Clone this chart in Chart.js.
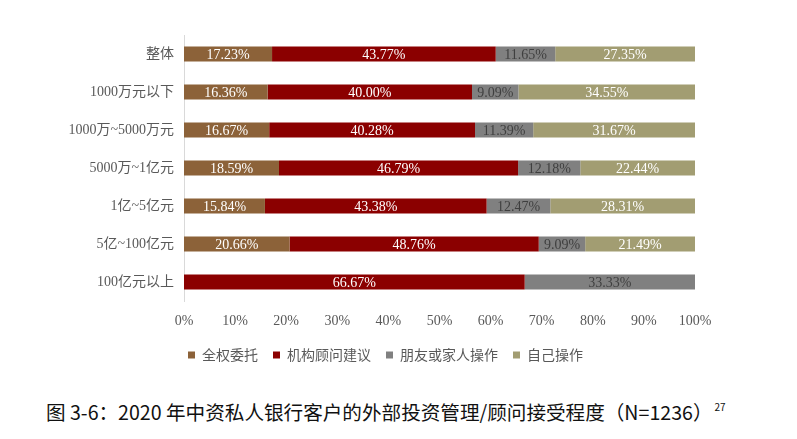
<!DOCTYPE html>
<html>
<head>
<meta charset="utf-8">
<script src="https://cdn.jsdelivr.net/npm/chart.js@4.4.0/dist/chart.umd.min.js"></script>
<style>
  html, body { margin: 0; padding: 0; background: #fff; }
  #wrap { position: relative; width: 797px; height: 439px; overflow: hidden; }
  #box { position: absolute; left: 0; top: 0; width: 797px; height: 380px; }
  #caption { position: absolute; left: 46px; top: 397px; font-family: "Noto Sans CJK SC", sans-serif; font-size: 19.6px; color: #111; white-space: nowrap; }
  #caption sup { font-size: 10px; vertical-align: 9px; margin-left: 2px; }
</style>
</head>
<body>
<div id="wrap">
  <div id="box"><canvas id="c"></canvas></div>
  <div id="caption">图 3-6：2020 年中资私人银行客户的外部投资管理/顾问接受程度（N=1236）<sup>27</sup></div>
</div>
<script>
const categories = ["整体", "1000万元以下", "1000万~5000万元", "5000万~1亿元", "1亿~5亿元", "5亿~100亿元", "100亿元以上"];
const seriesNames = ["全权委托", "机构顾问建议", "朋友或家人操作", "自己操作"];
const fullDelegation = [17.23, 16.36, 16.67, 18.59, 15.84, 20.66, 0];
const advisorAdvice = [43.77, 40.00, 40.28, 46.79, 43.38, 48.76, 66.67];
const friendsFamily = [11.65, 9.09, 11.39, 12.18, 12.47, 9.09, 33.33];
const selfOperated = [27.35, 34.55, 31.67, 22.44, 28.31, 21.49, 0];
const xTickValues = [0, 10, 20, 30, 40, 50, 60, 70, 80, 90, 100];

const colors = ["#8C6239", "#8B0000", "#808080", "#A29D72"];
const labelColors = ["#ffffff", "#ffffff", "#3f3f3f", "#ffffff"];
const seriesData = [fullDelegation, advisorAdvice, friendsFamily, selfOperated];

const serif = '"Liberation Serif", "DejaVu Serif", serif';
const mixed = '"Liberation Serif", "Noto Sans CJK SC", serif';

const barLabels = {
  id: 'barLabels',
  afterDatasetsDraw(chart) {
    const ctx = chart.ctx;
    ctx.save();
    ctx.font = '14px ' + serif;
    ctx.textAlign = 'center';
    ctx.textBaseline = 'middle';
    chart.data.datasets.forEach((ds, di) => {
      const meta = chart.getDatasetMeta(di);
      meta.data.forEach((el, i) => {
        const v = ds.data[i];
        if (!v) return;
        const p = el.getCenterPoint();
        ctx.fillStyle = labelColors[di];
        ctx.fillText(v.toFixed(2) + '%', p.x, p.y + 1);
      });
    });
    ctx.restore();
  }
};

// shift the legend so it is centred where the reference has it
const legendShift = {
  id: 'legendShift',
  afterLayout(chart) {
    if (chart.legend) {
      chart.legend.left += 28;
      chart.legend.right += 28;
    }
  }
};

new Chart(document.getElementById('c'), {
  type: 'bar',
  data: {
    labels: categories,
    datasets: seriesNames.map((name, i) => ({
      label: name,
      data: seriesData[i],
      backgroundColor: colors[i],
      borderWidth: 0,
      categoryPercentage: 1.0,
      barPercentage: 0.4
    }))
  },
  options: {
    indexAxis: 'y',
    responsive: true,
    maintainAspectRatio: false,
    animation: false,
    layout: { padding: { left: 20, right: 102, top: 35, bottom: 8 } },
    scales: {
      x: {
        stacked: true,
        min: 0, max: 100,
        afterBuildTicks(scale) { scale.ticks = xTickValues.map(v => ({ value: v })); },
        afterFit(scale) { scale.height = 32; },
        grid: { display: false, drawTicks: false, tickLength: 0 },
        border: { display: false },
        ticks: {
          padding: 12,
          color: '#595959',
          font: { family: serif, size: 14 },
          callback: v => v + '%'
        }
      },
      y: {
        stacked: true,
        afterFit(scale) { scale.width = 164; },
        grid: { display: false, drawTicks: false, tickLength: 0 },
        border: { display: true, color: '#d9d9d9', width: 1 },
        ticks: {
          padding: 10,
          color: '#595959',
          font: { family: mixed, size: 14 }
        }
      }
    },
    plugins: {
      legend: {
        position: 'bottom',
        labels: {
          boxWidth: 7,
          boxHeight: 7,
          padding: 15,
          color: '#595959',
          font: { family: '"Noto Sans CJK SC", sans-serif', size: 14 }
        }
      },
      tooltip: { enabled: false }
    }
  },
  plugins: [barLabels, legendShift]
});
</script>
</body>
</html>
